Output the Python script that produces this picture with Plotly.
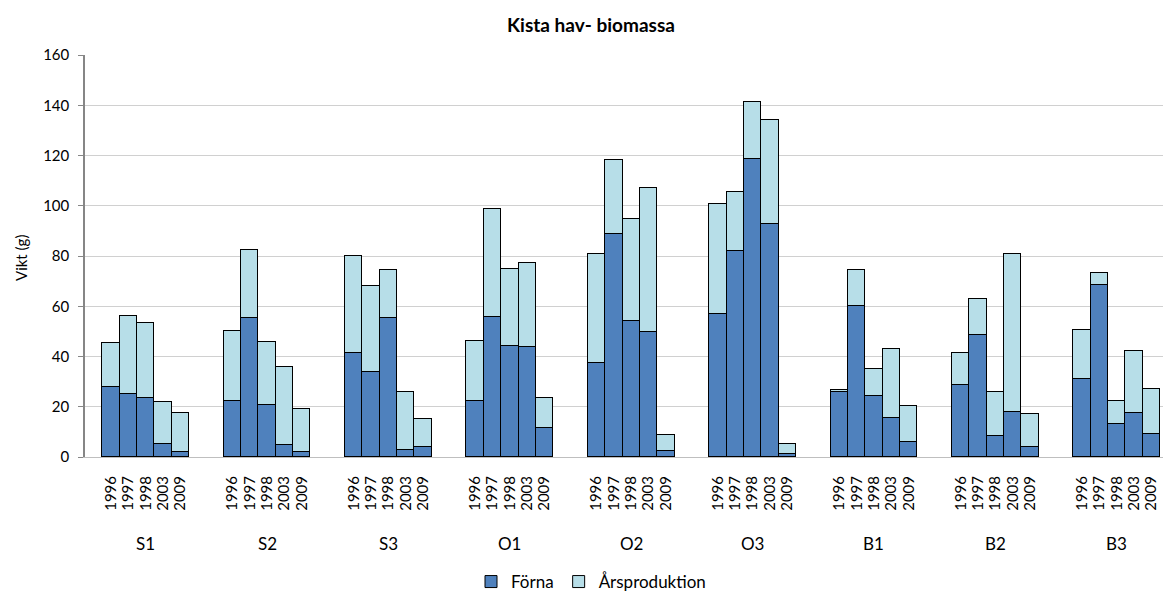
import plotly.graph_objects as go

sites = ["S1", "S2", "S3", "O1", "O2", "O3", "B1", "B2", "B3"]
years = ["1996", "1997", "1998", "2003", "2009"]

forna = [
    [27.7, 25.2, 23.3, 5.2, 1.9],
    [22.4, 55.4, 20.8, 4.8, 1.9],
    [41.2, 33.9, 55.4, 2.9, 3.8],
    [22.4, 55.9, 44.3, 43.7, 11.7],
    [37.4, 88.9, 54.0, 49.6, 2.3],
    [56.9, 81.8, 118.8, 92.9, 1.2],
    [25.7, 60.3, 24.3, 15.5, 6.1],
    [28.6, 48.6, 8.2, 17.9, 3.8],
    [31.0, 68.5, 13.0, 17.5, 9.1],
]
arsproduktion = [
    [17.5, 31.1, 30.1, 16.7, 15.5],
    [27.6, 26.8, 24.8, 31.1, 17.1],
    [39.0, 34.1, 19.0, 22.9, 11.3],
    [23.7, 42.7, 30.5, 33.7, 11.6],
    [43.2, 29.3, 40.8, 57.4, 6.3],
    [43.7, 23.7, 22.6, 41.2, 4.0],
    [0.9, 14.2, 10.7, 27.3, 14.2],
    [12.8, 14.2, 17.6, 62.8, 13.2],
    [19.5, 4.9, 9.3, 24.8, 18.1],
]

FONT = "Lato"
STEP = len(years) + 2  # slots per site incl. gap

xs, f_vals, a_vals, tick_text = [], [], [], []
for g, site in enumerate(sites):
    for j, yr in enumerate(years):
        xs.append(g * STEP + j)
        f_vals.append(forna[g][j])
        a_vals.append(arsproduktion[g][j])
        tick_text.append(yr)

fig = go.Figure()
fig.add_trace(go.Bar(x=xs, y=f_vals, name="Förna", width=1,
                     marker=dict(color="#4F81BD", line=dict(color="#000000", width=1))))
fig.add_trace(go.Bar(x=xs, y=a_vals, name="Årsproduktion", width=1,
                     marker=dict(color="#B7DEE8", line=dict(color="#000000", width=1))))

W, H = 1163, 593
L, R, T, B = 85, 0, 55, 136
pw = W - L - R
ph = H - T - B

annotations = []
for g, site in enumerate(sites):
    annotations.append(dict(x=g * STEP + (len(years) - 1) / 2, xref="x",
                            y=(457 - 543) / ph, yref="paper", text=site, showarrow=False,
                            xanchor="center", yanchor="middle",
                            font=dict(family=FONT, size=17, color="#000")))
annotations.append(dict(x=(21 - L) / pw, xref="paper", y=(457 - 258) / ph, yref="paper",
                        text="Vikt (g)", textangle=-90, showarrow=False,
                        xanchor="center", yanchor="middle",
                        font=dict(family=FONT, size=15, color="#000")))

fig.update_layout(
    width=W, height=H,
    margin=dict(l=L, r=R, t=T, b=B, autoexpand=False),
    barmode="stack",
    bargap=0,
    plot_bgcolor="white", paper_bgcolor="white",
    font=dict(family=FONT, size=14, color="#000"),
    title=dict(text="<b>Kista hav- biomassa</b>", x=(591 - L) / pw, xref="paper",
               y=1 - 25 / H, yref="container", xanchor="center", yanchor="middle",
               font=dict(family=FONT, size=19, color="#000")),
    xaxis=dict(range=[-1.5, -1.5 + pw / 17.34], tickmode="array", tickvals=xs, ticktext=tick_text,
               tickangle=-90, showgrid=False, zeroline=False, showline=True,
               linecolor="#bfbfbf", linewidth=1, ticks="", ticklabelstandoff=12,
               automargin=False,
               tickfont=dict(family=FONT, size=15, color="#000")),
    yaxis=dict(range=[0, 160], dtick=20, showgrid=True, gridcolor="#d0d0d0", gridwidth=1,
               zeroline=False, showline=True, linecolor="#868686", linewidth=1.5,
               ticks="outside", ticklen=5, tickcolor="#868686", automargin=False,
               ticklabelstandoff=6,
               tickfont=dict(family=FONT, size=15, color="#000")),
    legend=dict(orientation="h", x=(591 - L) / pw, xanchor="center", y=(457 - 582) / ph,
                yanchor="middle", font=dict(family=FONT, size=17, color="#000"),
                itemwidth=30, traceorder="normal"),
    annotations=annotations,
)

fig.write_html("out.html", config={"displayModeBar": False},
               post_script="document.body.style.margin='0';document.body.style.overflow='hidden';")
